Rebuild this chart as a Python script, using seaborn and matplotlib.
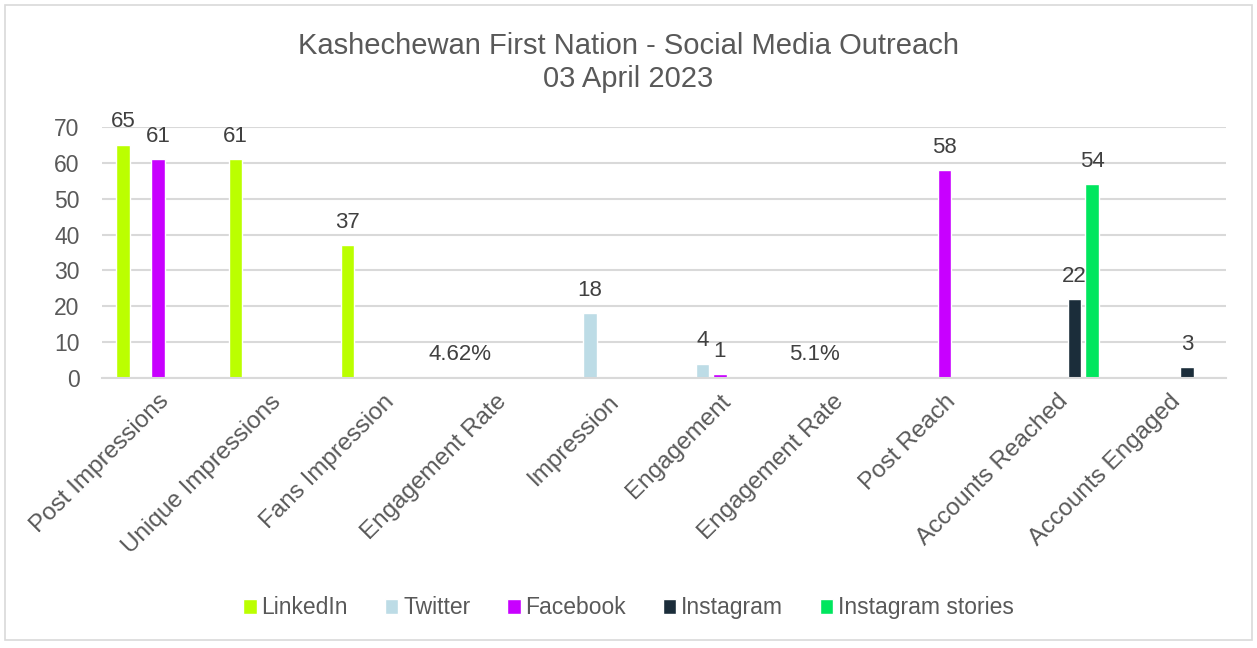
import matplotlib
matplotlib.use("Agg")
import matplotlib.pyplot as plt
from matplotlib.patches import Rectangle
import seaborn as sns
import pandas as pd
import numpy as np

# chart values
categories = ["Post Impressions", "Unique Impressions", "Fans Impression", "Engagement Rate",
              "Impression", "Engagement", "Engagement Rate ", "Post Reach",
              "Accounts Reached", "Accounts Engaged"]
platforms = ["LinkedIn", "Twitter", "Facebook", "Instagram", "Instagram stories"]
colors = ["#BBFF00", "#BDDCE6", "#C800FF", "#1B2D3A", "#00E65E"]

linkedin = [65, 61, 37, 0.0462, None, None, None, None, None, None]
twitter = [None, None, None, None, 18, 4, 0.051, None, None, None]
facebook = [61, None, None, None, None, 1, None, 58, None, None]
instagram = [None, None, None, None, None, None, None, None, 22, 3]
instagram_stories = [None, None, None, None, None, None, None, None, 54, None]

rows = []
for name, vals in zip(platforms, [linkedin, twitter, facebook, instagram, instagram_stories]):
    for cat, v in zip(categories, vals):
        if v is not None:
            rows.append({"category": cat, "platform": name, "value": v})
df = pd.DataFrame(rows)

sns.set_style("white")
plt.rcParams['font.family'] = ['Liberation Sans', 'DejaVu Sans']

fig = plt.figure(figsize=(12.57, 6.48), dpi=100)
ax = fig.add_axes([0.081, 0.4167, 0.894, 0.3873])

sns.barplot(data=df, x="category", y="value", hue="platform",
            order=categories, hue_order=platforms, palette=colors, saturation=1,
            width=0.78, gap=0.23, dodge=True, ax=ax, legend=True)

def fmt(v):
    if v < 1:
        return f"{v*100:g}%"
    return f"{v:.0f}"

for c in ax.containers:
    ax.bar_label(c, labels=[fmt(b.get_height()) for b in c], padding=9,
                 fontsize=16, color="#404040")

ax.set_ylim(0, 70)
ax.set_yticks(range(0, 71, 10))
ax.set_xlim(-0.5, len(categories) - 0.5)
ax.yaxis.grid(True, color="#D9D9D9", linewidth=1.5)
ax.set_axisbelow(True)
for s in ["top", "right", "left"]:
    ax.spines[s].set_visible(False)
ax.spines["bottom"].set_color("#D9D9D9")
ax.spines["bottom"].set_linewidth(1.5)
ax.set_xlabel("")
ax.set_ylabel("")
ax.tick_params(axis="both", length=0, labelsize=16.5, labelcolor="#595959")
ax.tick_params(axis="y", pad=16)
ax.tick_params(axis="x", pad=9, labelsize=17.5)
ax.set_xticks(range(len(categories)))
ax.set_xticklabels([c.strip() for c in categories], rotation=45, ha="right",
                   rotation_mode="anchor")

fig.suptitle("Kashechewan First Nation - Social Media Outreach\n03 April 2023",
             y=0.95, fontsize=21, color="#595959", linespacing=1.2)

ax.legend(loc="center", bbox_to_anchor=(0.5, 0.062), bbox_transform=fig.transFigure,
          ncol=5, frameon=False, fontsize=16.5, handlelength=0.6, handleheight=0.6,
          handletextpad=0.2, columnspacing=1.6, labelcolor="#595959")

fig.patches.append(Rectangle((0.004, 0.012), 0.992, 0.98, transform=fig.transFigure,
                             fill=False, edgecolor="#D9D9D9", linewidth=1.2))

fig.savefig("out.png", dpi=100)
